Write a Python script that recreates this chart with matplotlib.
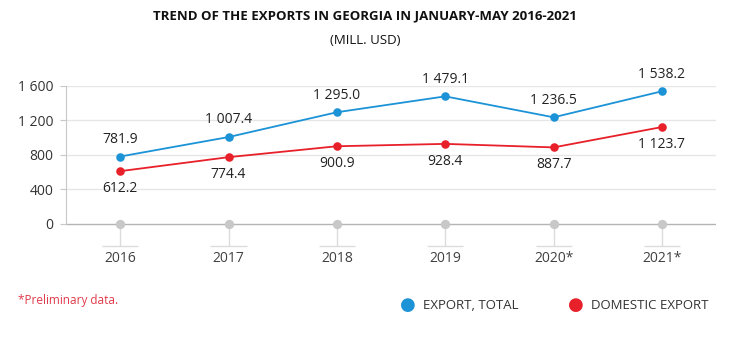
import matplotlib
matplotlib.use('Agg')
import matplotlib.pyplot as plt

plt.rcParams['font.family'] = ['Open Sans', 'DejaVu Sans']

# ── Data ──────────────────────────────────────────────────────────────────────
years       = ['2016', '2017', '2018', '2019', '2020*', '2021*']
export_tot  = [781.9, 1007.4, 1295.0, 1479.1, 1236.5, 1538.2]
export_dom  = [612.2, 774.4, 900.9, 928.4, 887.7, 1123.7]
yticks      = [0, 400, 800, 1200, 1600]

BLUE = '#1b93d6'
RED  = '#e8202a'
GREY = '#c8c8c8'
TXT  = '#222222'


def fmt(v):
    # thousands separated by a space, one decimal
    return f'{v:,.1f}'.replace(',', ' ')


fig = plt.figure(figsize=(7.38, 3.39), dpi=100)
ax = fig.add_axes([0.0894, 0.2375, 0.881, 0.509])

x = list(range(len(years)))
ax.set_xlim(-0.5, len(years) - 0.5)
ax.set_ylim(-400, 1600)

# grid + baseline
for t in yticks[1:]:
    ax.axhline(t, color='#e6e6e6', linewidth=1, zorder=0)
ax.axhline(0, color='#b4b4b4', linewidth=1, zorder=1)

# category markers on the baseline with stems
stem_bottom = -255
ax.vlines(x, stem_bottom, 0, color='#dcdcdc', linewidth=1, zorder=1)
ax.hlines([stem_bottom] * len(x), [i - 0.167 for i in x], [i + 0.167 for i in x],
          color='#dcdcdc', linewidth=1, zorder=1)
ax.scatter(x, [0] * len(x), s=45, color=GREY, zorder=3, linewidths=0)

# series
ax.plot(x, export_tot, color=BLUE, linewidth=1.3, zorder=4)
ax.scatter(x, export_tot, s=38, color=BLUE, zorder=5, linewidths=0)
ax.plot(x, export_dom, color=RED, linewidth=1.3, zorder=4)
ax.scatter(x, export_dom, s=38, color=RED, zorder=5, linewidths=0)

for i, v in enumerate(export_tot):
    ax.annotate(fmt(v), (i, v), xytext=(0, 7), textcoords='offset points',
                ha='center', va='bottom', fontsize=10, color=TXT)
for i, v in enumerate(export_dom):
    ax.annotate(fmt(v), (i, v), xytext=(0, -7), textcoords='offset points',
                ha='center', va='top', fontsize=10, color=TXT)

# axes styling
for s in ['top', 'right', 'bottom']:
    ax.spines[s].set_visible(False)
ax.spines['left'].set_bounds(0, 1600)
ax.spines['left'].set_color('#c8c8c8')
ax.set_yticks(yticks)
ax.set_yticklabels([f'{t:,}'.replace(',', ' ') for t in yticks],
                   fontsize=10, color='#333333')
ax.tick_params(axis='y', length=4, color='#c8c8c8', pad=5)
ax.set_xticks([])
for i, y in enumerate(years):
    ax.text(i, -395, y, ha='center', va='center', fontsize=10, color='#404040')

# titles
fig.text(0.495, 0.953, 'TREND OF THE EXPORTS IN GEORGIA IN JANUARY-MAY 2016-2021',
         ha='center', va='center', fontsize=9.5, fontweight='bold', color='#111111')
fig.text(0.495, 0.882, '(MILL. USD)', ha='center', va='center',
         fontsize=9.5, color='#111111')

# footnote
fig.text(0.024, 0.115, '*Preliminary data.', ha='left', va='center',
         fontsize=8.5, color='#e03a4a')

# legend
for px, col, lab in [(408, BLUE, 'EXPORT, TOTAL'), (576, RED, 'DOMESTIC EXPORT')]:
    fig.text(px / 738, 0.1, '\u25cf', ha='center', va='center',
             fontsize=13, color=col, family='DejaVu Sans')
    fig.text((px + 15) / 738, 0.1, lab, ha='left', va='center',
             fontsize=9.5, color='#333333')

fig.savefig('out.png', dpi=100)
